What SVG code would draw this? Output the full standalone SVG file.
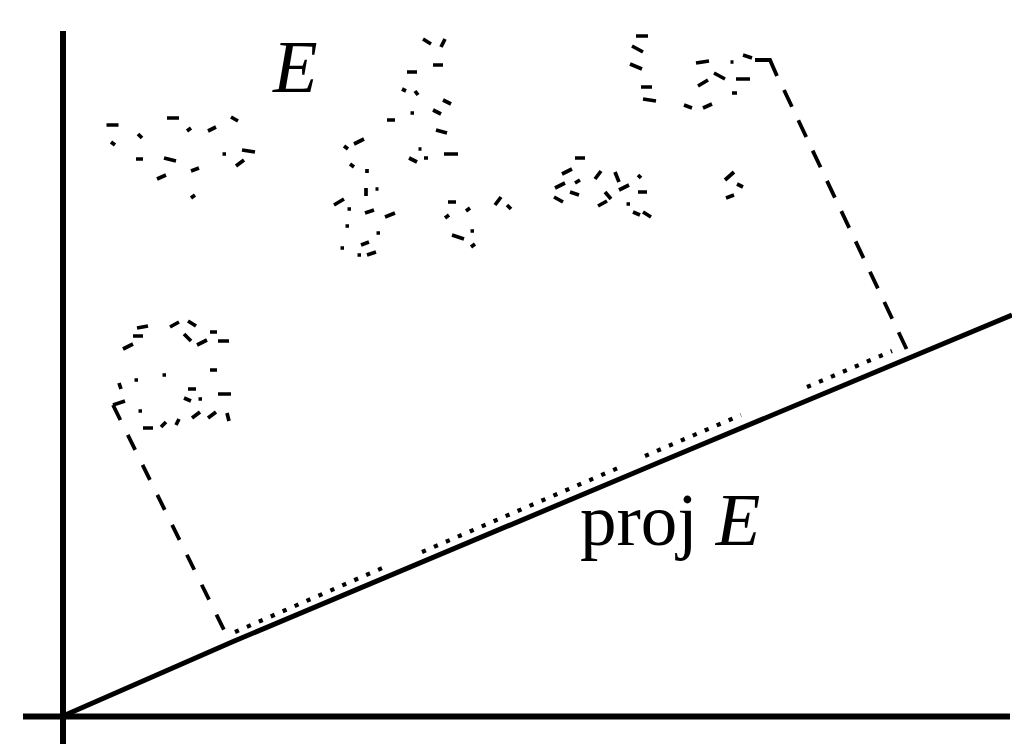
<svg xmlns="http://www.w3.org/2000/svg" width="1012" height="744" viewBox="0 0 1012 744">
<style>
.axis{stroke:#000;stroke-width:6;fill:none}
.line{stroke:#000;stroke-width:5;fill:none;stroke-linejoin:round}
.dash{stroke:#000;stroke-width:3.8;fill:none}
.dot{stroke:#000;stroke-width:4.2;fill:none;stroke-dasharray:4.2 8.8}
.m{stroke:#000;stroke-width:3.7;fill:none;stroke-linecap:butt}
.lbl{font-family:"Liberation Serif","Times New Roman",serif;font-size:73px;fill:#000}
</style>
<rect width="1012" height="744" fill="#fff"/>
<g id="axes">
<line class="axis" x1="63" y1="31" x2="63" y2="744"/>
<line class="axis" x1="23" y1="716.5" x2="1010" y2="716.5"/>
</g>
<g id="subspace">
<polyline class="line" points="63,716 232,642 660,462 1012,315"/>
</g>
<g id="set-E">
<path class="m" d="M106.5 125h12M167 118h12M138 134l4 4M111 142l4 3M187 131l4 -3M208 131l8 -4M231 117l7 4M136 159h7M164 158l12 3M191 171l8 -3M222.5 154h3.5M242 150l13 2M236 166l8 -6M157 179l9 -4M191 198l4 -3"/>
<path class="m" d="M423 39l8 5M441 47l4 -8M433 65h10M407 72h10M402 89l4 2M415 91l3 4M443 100l8 4M433 110l8 4M410.5 113h3.5M387 120h8M436 130l11 3M354 144l10 -5M344 146l4 3M418.5 149h3M409 158l8 4M424 158h4M444 154h14M350 164l4 3M367 169v4M366 188v8M375.5 189h3M334 205l10 -6M347.5 209h3.5M365 213l9 -3M385 217l10 -4M345.5 226h3.5M376.5 233h3.5M361 245l8 -3M340.5 248h3.5M357.5 255h3.5M367 255l9 -3M448 202h8M466 211l4 -3M445 218l4 -3M470.5 231h3.5M452 235l12 4M471 247l4 -3M495 205l6 -8M507 205l4 4"/>
<path class="m" d="M636 36h12M632 46l11 6M630 64l12 5M641 87h11M643 99l13 2M696 63l13 -2M730.5 62h3M743 55l9 3M714 73l11 6M698 86l10 -6M736 79h14M732 93h5M684 105l8 3M703 108l9 -4"/>
<path class="m" d="M575 158h10M562 174l10 -5M555 188l10 -5M575 183l5 -3M554 197l9 5M570 192l9 3M595 179l6 -8M615 172l4 10M638 175l3 3M619 190l10 -5M638 192h9M605 192l6 7M598 206l9 -5M626.5 204h3.5M633 212l7 3M643 212l8 5M725 180l9 -8M737 184l6 3M726 198l8 -3"/>
<path class="m" d="M137 328l11 -2M133 336h10M123 349l10 -5M170 327l9 -5M188 321l8 5M184 334l7 7M197 345l10 -5M210 332h7M218 341h11M210 370h7M162.5 375h3.5M134.5 380h3.5M119 383l2 6M188 389h8M184 398l7 3M198.5 399h3.5M218 394h13M113 405l12 -4M138.5 411h3.5M192 418l8 -6M208 418l8 -6M227 413l2 8M143 428h10M161 427l5 -5M176 425l3 -6"/>
</g>
<g id="connectors">
<line class="dash" x1="113" y1="405" x2="225" y2="632" stroke-dasharray="16.7 16.7"/>
<polyline class="dash" points="755,60 770,60 777,76"/>
<line class="dash" x1="784" y1="90" x2="907" y2="350" stroke-dasharray="18.5 15"/>
<line class="dot" x1="235" y1="632" x2="387" y2="566"/>
<line class="dot" x1="422" y1="552" x2="618" y2="468"/>
<line class="dot" x1="645" y1="456" x2="741" y2="415"/>
<line class="dot" x1="807" y1="387" x2="892" y2="351"/>
</g>
<g id="labels">
<text class="lbl" x="273" y="92" font-style="italic">E</text>
<text class="lbl" x="580" y="545">proj <tspan font-style="italic">E</tspan></text>
</g>
</svg>
